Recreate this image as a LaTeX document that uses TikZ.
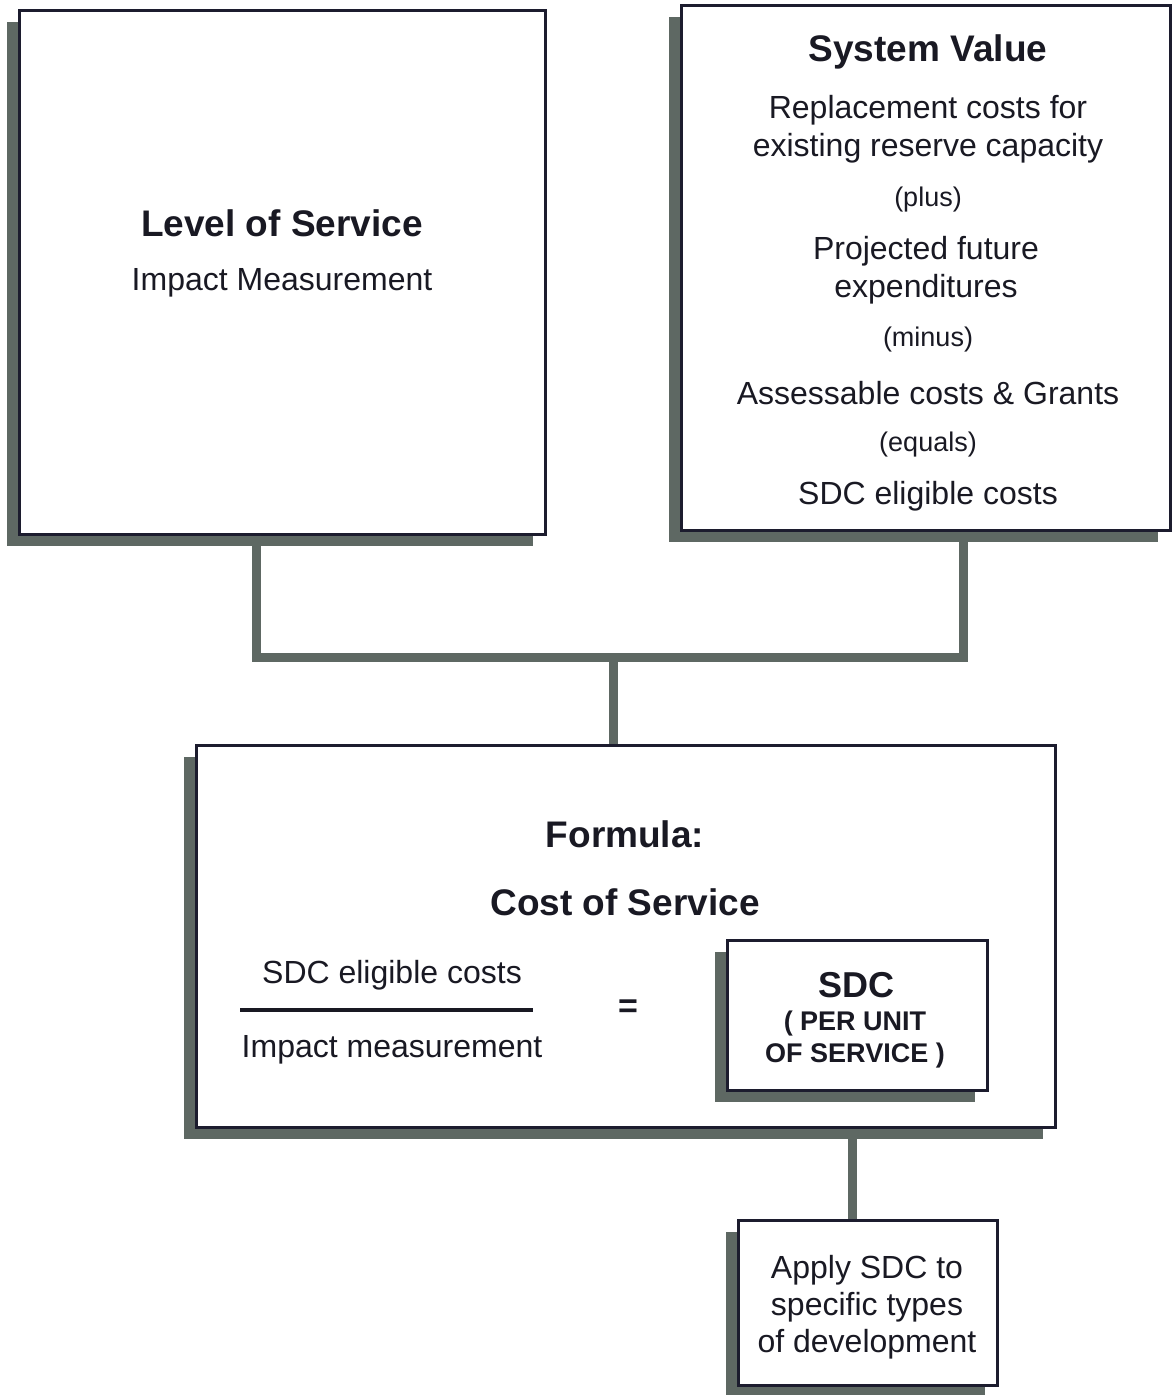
\documentclass[tikz,border=0pt]{standalone}
\usepackage{fontspec}
\setmainfont{Liberation Sans}
\usepackage{tikz}
\usetikzlibrary{shadows}

\definecolor{ink}{RGB}{25,25,35}
\definecolor{edge}{RGB}{28,28,46}
\definecolor{shade}{RGB}{94,104,99}

\newcommand{\txtbody}{\fontsize{32}{38}\selectfont}
\newcommand{\txthead}{\fontsize{37}{44}\selectfont\bfseries}
\newcommand{\txtsmall}{\fontsize{27}{32}\selectfont}
\newcommand{\txtunit}{\fontsize{27}{32}\selectfont\bfseries}

\begin{document}
\begin{tikzpicture}[x=1pt,y=-1pt,
                    link/.style={draw=shade,line width=9pt},
                    frac/.style={draw=ink,line width=4pt}]
  \tikzstyle{box}=[draw=edge,line width=3pt,fill=white,inner sep=0pt,
                   drop shadow={shadow xshift=-12pt,shadow yshift=-12pt,
                                fill=shade,opacity=1}]
  \tikzstyle{every node}=[text=ink,font=\txtbody,align=center]

  \useasboundingbox (0,0) rectangle (1171,1395);

  % boxes
  \node[box,minimum width=526pt,minimum height=524pt] (los)     at (282,272)    {};
  \node[box,minimum width=489pt,minimum height=525pt] (sysval)  at (925.5,267.5){};
  \node[box,minimum width=859pt,minimum height=382pt] (formula) at (625.5,936)  {};
  \node[box,minimum width=260pt,minimum height=150pt] (sdc)     at (857,1015)   {};
  \node[box,minimum width=259pt,minimum height=165pt] (apply)   at (867.5,1302.5){};

  % connectors
  \coordinate (join) at (613,657);
  \draw[link] ([xshift=-26pt]los.south) |- (join)
              -| ([xshift=37.5pt]sysval.south);
  \draw[link] (join) -- (join |- formula.north);
  \draw[link] ([xshift=-15pt]apply.north) -- ([xshift=-15pt]apply.north |- formula.south);

  % level of service
  \node (lostitle)  at (282,223) {\txthead Level of Service};
  \node (losimpact) at (282,283) {Impact Measurement};

  % system value
  \node (svtitle)    at (928,52)    {\txthead System Value};
  \node (svreplace)  at (928,129)   {Replacement costs for\\existing reserve capacity};
  \node (svplus)     at (928,200)   {\txtsmall (plus)};
  \node (svfuture)   at (926,270.5) {Projected future\\expenditures};
  \node (svminus)    at (928,340)   {\txtsmall (minus)};
  \node (svassess)   at (928,393)   {Assessable costs \& Grants};
  \node (svequals)   at (928,445)   {\txtsmall (equals)};
  \node (sveligible) at (928,496)   {SDC eligible costs};

  % formula
  \node (fmtitle) at (625,834) {\txthead Formula:};
  \node (fmcost)  at (625,902) {\txthead Cost of Service};
  \node (fmnum)   at (392,975)  {SDC eligible costs};
  \node (fmden)   at (392,1050) {Impact measurement};
  \draw[frac] (240,1010) -- (533,1010);
  \node[font=\fontsize{34}{40}\selectfont\bfseries] (fmeq) at (628,1009) {=};

  % per unit of service
  \node[font=\fontsize{36}{40}\selectfont\bfseries] (sdctitle) at (856,985) {SDC};
  \node[font=\txtunit] (sdcunit) at (855,1040) {( PER UNIT\\OF SERVICE )};

  % apply
  \node[font=\fontsize{32}{37}\selectfont] (applytext) at (867,1307)
       {Apply SDC to\\specific types\\of development};
\end{tikzpicture}
\end{document}
